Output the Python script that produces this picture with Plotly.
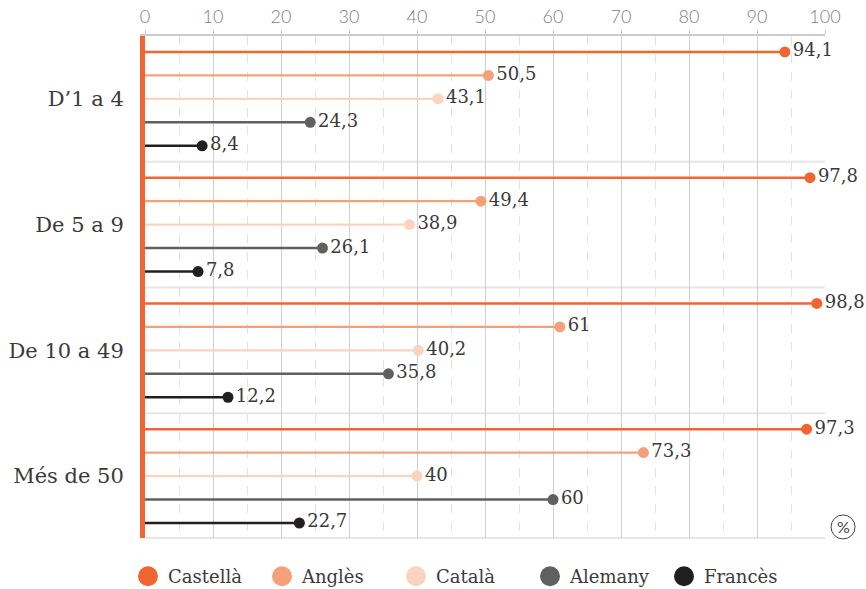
import plotly.graph_objects as go

# data
groups = ["D’1 a 4", "De 5 a 9", "De 10 a 49", "Més de 50"]
languages = ["Castellà", "Anglès", "Català", "Alemany", "Francès"]
castella = [94.1, 97.8, 98.8, 97.3]
angles = [50.5, 49.4, 61, 73.3]
catala = [43.1, 38.9, 40.2, 40]
alemany = [24.3, 26.1, 35.8, 60]
frances = [8.4, 7.8, 12.2, 22.7]

series = [castella, angles, catala, alemany, frances]
colors = ['#f26430', '#f6a07a', '#fbd4c0', '#606060', '#231f20']
widths = [2.5, 2.2, 2.2, 2.5, 2.5]

serif = "DejaVu Serif"
group_step = 5.36  # rows per group incl. gap

fig = go.Figure()

for i, (name, vals) in enumerate(zip(languages, series)):
    ys = [g * group_step + i for g in range(len(groups))]
    xs_line, ys_line = [], []
    for v, y in zip(vals, ys):
        xs_line += [0, v, None]
        ys_line += [y, y, None]
    fig.add_trace(go.Scatter(
        x=xs_line, y=ys_line, mode='lines',
        line=dict(color=colors[i], width=widths[i]),
        showlegend=False, hoverinfo='skip'
    ))
    fig.add_trace(go.Scatter(
        x=vals, y=ys, mode='markers+text',
        marker=dict(color=colors[i], size=11),
        text=[f"{v:g}".replace('.', ',') for v in vals],
        textposition='middle right',
        textfont=dict(family=serif, size=18, color='#3a3a3a'),
        cliponaxis=False, showlegend=False, name=name
    ))
    # legend entry
    fig.add_trace(go.Scatter(
        x=[None], y=[None], mode='markers', name=name,
        marker=dict(color=colors[i], size=16, line=dict(color=colors[i], width=4))
    ))

# separators between groups
for g in range(1, len(groups)):
    ysep = g * group_step - (group_step - 4) / 2
    fig.add_shape(type='line', xref='x', yref='y', x0=0, x1=100, y0=ysep, y1=ysep,
                  line=dict(color='#e6e6e6', width=2), layer='below')
# bottom border
fig.add_shape(type='line', xref='paper', yref='paper', x0=0, x1=1, y0=0, y1=0,
              line=dict(color='#e6e6e6', width=2), layer='below')

# circled % sign
fig.add_shape(type='circle', xref='paper', yref='paper', xsizemode='pixel', ysizemode='pixel',
              xanchor=1.0265, yanchor=0.022, x0=-12, x1=12, y0=-12, y1=12,
              line=dict(color='#444444', width=1))
fig.add_annotation(text='%', xref='paper', yref='paper', x=1.0265, y=0.022,
                   xanchor='center', yanchor='middle',
                   showarrow=False, font=dict(family='Lato', size=16, color='#444444'))

last = (len(groups) - 1) * group_step + 4
fig.update_layout(
    width=866, height=589,
    margin=dict(l=145, r=41, t=36, b=51, autoexpand=False),
    plot_bgcolor='white', paper_bgcolor='white',
    xaxis=dict(
        range=[0, 100], side='top', dtick=10,
        showgrid=True, gridcolor='#cfcfcf', gridwidth=1,
        minor=dict(dtick=5, showgrid=True, gridcolor='#e2e2e2', griddash='dash', gridwidth=1),
        showline=True, linecolor='#cccccc', linewidth=2,
        ticks='outside', ticklen=4, tickcolor='#cccccc',
        tickfont=dict(family='Lato', size=18, color='#808080', weight=300),
        zeroline=False, fixedrange=True
    ),
    yaxis=dict(
        range=[last + 0.64, -0.68],
        tickvals=[g * group_step + 2 for g in range(len(groups))],
        ticktext=groups,
        tickfont=dict(family=serif, size=21, color='#3a3a3a'),
        ticks='outside', ticklen=12, tickcolor='rgba(0,0,0,0)',
        showgrid=False, zeroline=False, fixedrange=True,
        showline=True, linecolor='#f26430', linewidth=5
    ),
    legend=dict(
        orientation='h', x=-0.025, xanchor='left', y=-0.04, yanchor='top',
        font=dict(family=serif, size=18, color='#3a3a3a'),
        entrywidth=89, entrywidthmode='pixels'
    ),
    showlegend=True,
)

fig.write_html("out.html", config={'displayModeBar': False},
               post_script="document.body.style.margin='0';")
